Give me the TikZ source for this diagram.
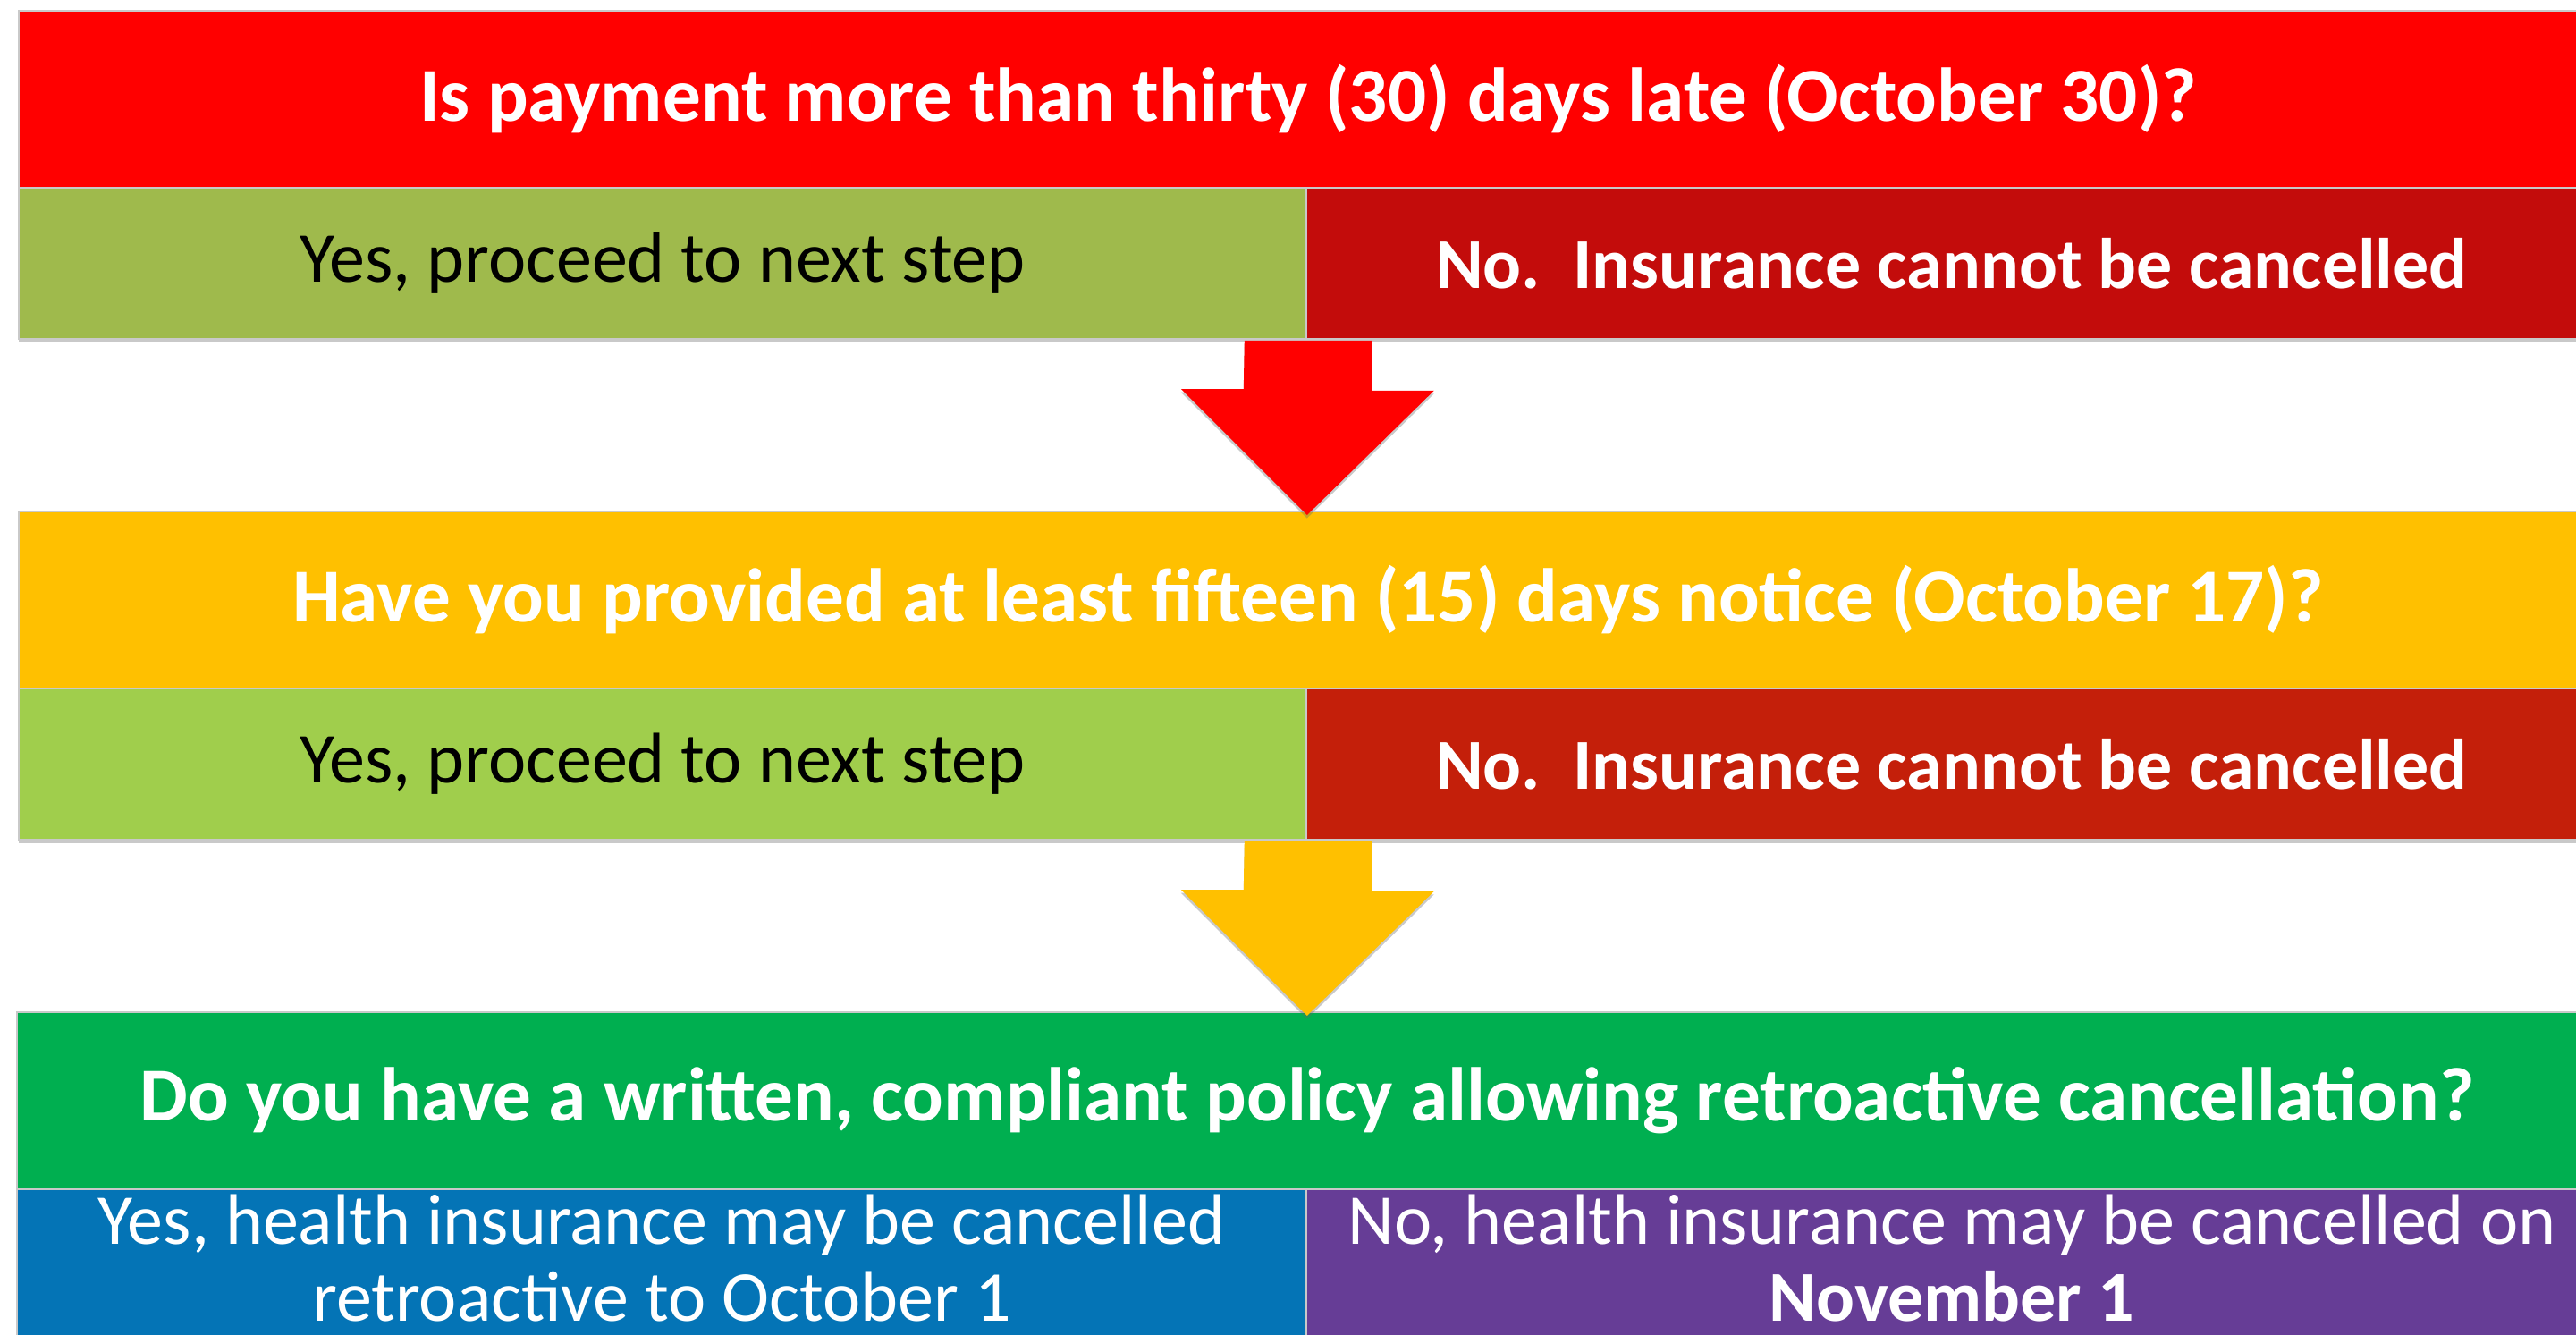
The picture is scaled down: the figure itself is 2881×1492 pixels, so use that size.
\documentclass[tikz,border=0pt]{standalone}
\usepackage{fontspec}
\setmainfont{Carlito}
\usetikzlibrary{calc,shadows}

\definecolor{qred}{HTML}{FF0000}
\definecolor{okgreenA}{HTML}{9FBA4C}
\definecolor{noredA}{HTML}{C30C0B}
\definecolor{qyellow}{HTML}{FFC000}
\definecolor{okgreenB}{HTML}{A0CE4C}
\definecolor{noredB}{HTML}{C41F0A}
\definecolor{qgreen}{HTML}{00AF50}
\definecolor{yesblue}{HTML}{0474B6}
\definecolor{nopurple}{HTML}{663D96}
\definecolor{rule}{HTML}{C9C9C9}

\tikzset{
  x=0.25pt, y=-0.25pt,
  cell/.style={draw=rule, line width=0.45pt, inner sep=0pt, anchor=north west,
    font=\fontsize{20}{24}\selectfont, align=center},
  question/.style={cell, text=white, font=\fontsize{21.3}{25}\bfseries\selectfont},
  answer/.style={cell, text=black},
  refusal/.style={cell, text=white, font=\fontsize{20}{24}\bfseries\selectfont},
  outcome/.style={cell},
  outcometext/.style={inner sep=0pt, text=white, align=center, font=\fontsize{20}{21.6}\selectfont},
  boxshadow/.style={drop shadow={shadow xshift=0pt, shadow yshift=-0.9pt, opacity=0.35, fill=black!60}},
  downarrow/.style={boxshadow, draw=none},
}

\begin{document}
\begin{tikzpicture}
\useasboundingbox (0,0) rectangle (2881,1492);
\fill[white] (0,0) rectangle (2881,1492);

% ---- step 1 -------------------------------------------------------
\node[question, fill=qred, minimum width=2884*0.25pt, minimum height=198*0.25pt] (q1) at (20,11)
  {Is payment more than thirty (30) days late (October 30)?};
\node[answer, fill=okgreenA, boxshadow, minimum width=1440*0.25pt, minimum height=169*0.25pt] (y1) at (20,209)
  {Yes, proceed to next step};
\node[refusal, fill=noredA, boxshadow, minimum width=1444*0.25pt, minimum height=169*0.25pt] (n1) at (1460,209)
  {No.\ \ Insurance cannot be cancelled};

% ---- step 2 -------------------------------------------------------
\node[question, fill=qyellow, minimum width=2884*0.25pt, minimum height=198*0.25pt] (q2) at (20,571)
  {Have you provided at least fifteen (15) days notice (October 17)?};
\node[answer, fill=okgreenB, boxshadow, minimum width=1440*0.25pt, minimum height=169*0.25pt] (y2) at (20,769)
  {Yes, proceed to next step};
\node[refusal, fill=noredB, boxshadow, minimum width=1444*0.25pt, minimum height=169*0.25pt] (n2) at (1460,769)
  {No.\ \ Insurance cannot be cancelled};

% ---- step 3 -------------------------------------------------------
\node[question, fill=qgreen, minimum width=2886*0.25pt, minimum height=198*0.25pt] (q3) at (18,1131)
  {Do you have a written, compliant policy allowing retroactive cancellation?};
\node[outcome, fill=yesblue, minimum width=1442*0.25pt, minimum height=166*0.25pt] (y3) at (18,1329) {};
\node[outcome, fill=nopurple, minimum width=1444*0.25pt, minimum height=166*0.25pt] (n3) at (1460,1329) {};
\node[outcometext] (y3t) at ($(y3.center)+(0,-6)$)
  {Yes, health insurance may be cancelled\\retroactive to October 1};
\node[outcometext] (n3t) at ($(n3.center)+(0,-6)$)
  {No, health insurance may be cancelled on\\\textbf{November 1}};

% ---- block arrows between the steps --------------------------------
\fill[qred, downarrow] ($(y1.south east)+(-70,1)$) -- ++(142,0) -- ++(0,56) -- ++(70,0)
  -- ($(q2.north west)!(y1.south east)!(q2.north east)+(0,5)$) -- ++(-141,-141) -- ++(70,0) -- cycle;
\fill[qyellow, downarrow] ($(y2.south east)+(-70,1)$) -- ++(142,0) -- ++(0,56) -- ++(70,0)
  -- ($(q3.north west)!(y2.south east)!(q3.north east)+(0,5)$) -- ++(-141,-141) -- ++(70,0) -- cycle;
\end{tikzpicture}
\end{document}
